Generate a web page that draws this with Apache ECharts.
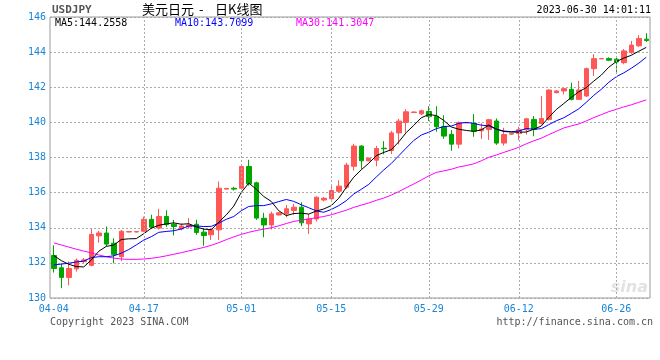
<!DOCTYPE html>
<html>
<head>
<meta charset="utf-8">
<script src="https://cdn.jsdelivr.net/npm/echarts/dist/echarts.min.js"></script>
<style>
html,body{margin:0;padding:0;background:#fff;}
#chart{width:660px;height:360px;}
</style>
</head>
<body>
<div id="chart"></div>
<script>
const categories = ['04-04','04-05','04-06','04-07','04-08','04-10','04-11','04-12','04-13','04-14','04-15','04-16','04-17',
'04-18','04-19','04-20','04-21','04-22','04-24','04-25','04-26','04-27','04-28','04-29','04-30','05-01',
'05-02','05-03','05-04','05-05','05-06','05-08','05-09','05-10','05-11','05-12','05-13','05-15',
'05-16','05-17','05-18','05-19','05-20','05-22','05-23','05-24','05-25','05-26','05-27','05-28','05-29',
'05-30','05-31','06-01','06-02','06-03','06-05','06-06','06-07','06-08','06-09','06-10','06-12',
'06-13','06-14','06-15','06-16','06-17','06-19','06-20','06-21','06-22','06-23','06-24','06-25','06-26',
'06-27','06-28','06-29','06-30'];

const tickLabels = ['04-04','04-17','05-01','05-15','05-29','06-12','06-26'];
const gridDates = ['04-17','05-01','05-15','05-29','06-12','06-26'];
const yTicks = [130,132,134,136,138,140,142,144,146];

const opens = [132.42,131.72,131.17,131.66,132.07,131.86,133.54,133.70,133.12,132.35,
133.76,133.76,133.80,134.48,133.98,134.64,134.20,133.93,134.05,134.20,
133.75,133.60,133.88,136.20,136.25,136.25,137.49,136.56,134.54,134.16,
134.73,134.79,134.98,135.17,134.22,134.50,135.58,135.65,136.08,136.31,
137.50,138.65,137.81,137.85,138.53,138.40,139.40,140.00,140.56,140.49,
140.62,140.35,139.77,139.32,138.76,139.97,139.95,139.52,139.60,140.08,
138.82,139.33,139.37,139.58,140.17,139.94,140.17,141.69,141.79,141.88,
141.31,141.50,143.06,143.62,143.63,143.60,143.40,143.98,144.36,144.74];

const closes = [131.68,131.17,131.68,132.15,132.17,133.62,133.70,133.07,132.48,133.80,
133.78,133.78,134.48,134.03,134.64,134.18,134.07,134.10,134.16,133.73,
133.56,133.88,136.25,136.24,136.20,137.49,136.50,134.55,134.16,134.79,
134.85,135.08,135.17,134.28,134.50,135.74,135.68,136.12,136.37,137.57,
138.65,137.81,137.96,138.51,138.50,139.40,140.07,140.60,140.59,140.66,
140.33,139.75,139.22,138.76,139.99,139.99,139.50,139.62,140.15,138.82,
139.31,139.36,139.58,140.20,139.60,140.22,141.84,141.79,141.92,141.31,
141.84,143.06,143.63,143.63,143.54,143.44,144.07,144.40,144.78,144.66];

const lows = [131.45,130.56,130.72,131.50,132.00,131.80,133.15,132.95,131.98,132.10,
133.74,133.74,133.78,133.95,133.90,134.05,133.56,133.85,133.95,133.60,
132.97,133.31,133.31,136.18,136.12,136.20,136.40,134.45,133.46,133.90,
134.70,134.60,134.73,134.09,133.65,134.36,135.50,135.60,136.00,136.20,
137.25,137.35,137.78,137.50,138.18,138.20,138.75,139.42,140.54,140.42,
140.08,139.47,139.06,138.38,138.52,139.95,139.18,139.05,139.00,138.72,
138.68,139.30,138.98,139.30,139.21,139.88,140.10,141.65,141.60,141.25,
141.30,141.45,142.64,143.60,143.50,142.83,143.31,143.90,144.30,144.58];

const highs = [133.00,131.97,132.08,132.25,132.28,133.93,133.82,134.07,133.40,133.87,
133.80,133.80,134.63,134.74,135.08,135.00,134.45,134.25,134.55,134.45,
133.98,133.95,136.63,136.27,136.33,137.60,137.87,136.62,134.85,134.92,
134.90,135.30,135.36,135.45,134.79,135.78,135.75,136.37,136.70,137.70,
138.78,138.70,138.00,138.66,138.93,139.52,140.20,140.75,140.62,140.72,
140.92,140.92,140.40,139.56,140.05,140.01,140.47,139.95,140.20,140.22,
139.69,139.40,139.75,140.26,140.36,141.50,141.88,141.84,141.98,142.26,
142.36,143.12,143.88,143.66,143.70,143.69,144.17,144.64,144.97,145.08];

const ma5 = [132.42,132.13,131.92,131.79,131.77,132.16,132.66,132.94,133.01,133.33,
133.37,133.38,133.66,133.97,134.14,134.22,134.28,134.20,134.23,134.05,
133.92,133.89,134.32,134.73,135.23,136.01,136.54,136.20,135.78,135.50,
134.97,134.69,134.81,134.83,134.78,134.95,135.07,135.26,135.68,136.30,
136.88,137.30,137.67,138.10,138.29,138.44,138.89,139.42,139.83,140.26,
140.45,140.39,140.11,139.74,139.61,139.54,139.49,139.57,139.85,139.62,
139.48,139.45,139.44,139.45,139.61,139.79,140.29,140.73,141.07,141.42,
141.74,141.98,142.35,142.69,143.14,143.46,143.66,143.82,144.05,144.27];

const ma10 = [131.88,131.93,131.98,132.05,132.10,132.30,132.35,132.35,132.40,132.55,
132.76,133.02,133.30,133.49,133.74,133.79,133.83,133.93,134.10,134.10,
134.07,134.08,134.26,134.48,134.64,134.97,135.21,135.26,135.26,135.36,
135.49,135.61,135.50,135.31,135.14,134.96,134.88,135.04,135.26,135.54,
135.92,136.19,136.47,136.89,137.29,137.66,138.10,138.54,138.97,139.28,
139.44,139.64,139.76,139.79,139.94,140.00,139.94,139.84,139.80,139.61,
139.51,139.47,139.51,139.65,139.61,139.64,139.87,140.09,140.26,140.51,
140.77,141.14,141.54,141.88,142.28,142.60,142.82,143.08,143.37,143.71];

const ma30 = [133.14,133.02,132.90,132.78,132.67,132.57,132.45,132.35,132.27,132.22,
132.20,132.20,132.22,132.26,132.32,132.40,132.49,132.58,132.68,132.78,
132.88,133.00,133.15,133.32,133.48,133.62,133.74,133.84,133.92,134.00,
134.11,134.24,134.36,134.43,134.50,134.57,134.64,134.74,134.87,135.00,
135.16,135.29,135.41,135.56,135.69,135.86,136.06,136.28,136.49,136.72,
136.95,137.15,137.24,137.33,137.46,137.54,137.64,137.81,138.01,138.14,
138.29,138.43,138.58,138.78,138.95,139.10,139.30,139.49,139.68,139.80,
139.91,140.08,140.27,140.44,140.61,140.74,140.88,141.00,141.14,141.28];

const maLegend = ['MA5:144.2558','MA10:143.7099','MA30:141.3047'];

const UP = '#ff5656', DOWN = '#00a600';
const MONO = '"DejaVu Sans Mono", "Liberation Mono", monospace';
const CJK = '"Noto Sans CJK SC"';
const BLUE_TXT = '#1a85d6';

const labelSet = new Set(tickLabels);
const chart = echarts.init(document.getElementById('chart'), null, {renderer:'canvas'});

const option = {
  animation: false,
  backgroundColor: '#fff',
  grid: {left: 50, right: 10, top: 17, bottom: 62, show: true, borderColor: '#9a9a9a', borderWidth: 1, backgroundColor: 'transparent'},
  xAxis: {
    type: 'category', data: categories, boundaryGap: true,
    axisLine: {show: false}, axisTick: {show: false},
    axisLabel: {interval: 0, formatter: v => labelSet.has(v) ? v : '', color: BLUE_TXT, fontFamily: MONO, fontSize: 10, margin: 6, showMinLabel: true},
    splitLine: {show: false}
  },
  yAxis: {
    type: 'value', min: yTicks[0], max: yTicks[yTicks.length-1], interval: 2,
    axisLine: {show: false}, axisTick: {show: false},
    axisLabel: {color: BLUE_TXT, fontFamily: MONO, fontSize: 10, margin: 4},
    splitLine: {show: true, lineStyle: {color: '#aaaaaa', type: [2, 2], width: 1}}
  },
  graphic: [
    {type: 'text', left: 52, top: 5, style: {text: 'USDJPY', font: 'bold 11px ' + MONO, fill: '#555'}},
    {type: 'text', left: 142, top: 3, style: {text: '美元日元', font: '13px ' + CJK, fill: '#000'}},
    {type: 'text', left: 199, top: 3, style: {text: '-', font: '13px ' + CJK, fill: '#000'}},
    {type: 'text', left: 215, top: 3, style: {text: '日K线图', font: '13px ' + CJK, fill: '#000'}},
    {type: 'text', right: 9, top: 5, style: {text: '2023-06-30 14:01:11', font: '10px ' + MONO, fill: '#000'}},
    {type: 'text', left: 55, top: 18, z: 100, style: {text: maLegend[0], font: '10px ' + MONO, fill: '#000'}},
    {type: 'text', left: 175, top: 18, z: 100, style: {text: maLegend[1], font: '10px ' + MONO, fill: '#0000ff'}},
    {type: 'text', left: 296, top: 18, z: 100, style: {text: maLegend[2], font: '10px ' + MONO, fill: '#ff00ff'}},
    {type: 'text', left: 50, top: 317, style: {text: 'Copyright 2023 SINA.COM', font: '10px ' + MONO, fill: '#555'}},
    {type: 'text', right: 7, top: 317, style: {text: 'http://finance.sina.com.cn', font: '10px ' + MONO, fill: '#555'}},
    {type: 'text', right: 12, top: 280, z: 0, style: {text: 'sina', font: 'italic bold 16px "DejaVu Sans"', fill: '#e2e2e2'}}
  ],
  series: [
    {
      type: 'line', data: [], z: 1, silent: true,
      markLine: {
        silent: true, symbol: ['none', 'none'], label: {show: false},
        lineStyle: {color: '#aaaaaa', type: [2, 2], width: 1},
        data: gridDates.map(d => ({xAxis: d}))
      }
    },
    {
      type: 'candlestick', z: 2, barWidth: 5,
      data: opens.map((o, i) => [o, closes[i], lows[i], highs[i]]),
      itemStyle: {color: UP, color0: DOWN, borderColor: UP, borderColor0: DOWN, borderColorDoji: UP, borderWidth: 1}
    },
    {type: 'line', data: ma30, z: 3, symbol: 'none', smooth: false, lineStyle: {color: '#ff00ff', width: 1}},
    {type: 'line', data: ma10, z: 3, symbol: 'none', smooth: false, lineStyle: {color: '#0000ff', width: 1}},
    {type: 'line', data: ma5, z: 3, symbol: 'none', smooth: false, lineStyle: {color: '#000000', width: 1}}
  ]
};
chart.setOption(option);
</script>
</body>
</html>
